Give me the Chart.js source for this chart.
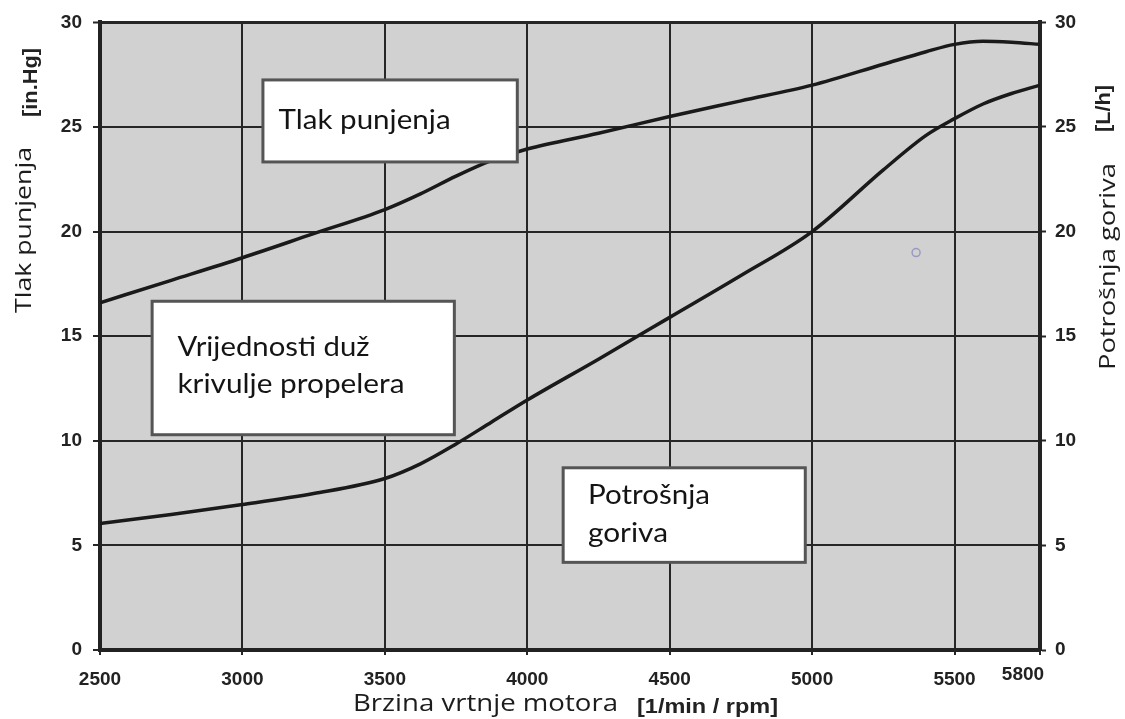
<!DOCTYPE html>
<html>
<head>
<meta charset="utf-8">
<script src="https://cdn.jsdelivr.net/npm/chart.js@4.4.1/dist/chart.umd.min.js"></script>
<style>
html,body{margin:0;padding:0;background:#fff;}
canvas{display:block;}
</style>
</head>
<body>
<canvas id="c" width="1125" height="719"></canvas>
<script>
// ---- data ----
const rpm = [2500, 2750, 3000, 3250, 3500, 3625, 3750, 3875, 4000, 4250, 4500, 4750, 5000, 5250, 5400, 5500, 5600, 5700, 5800];
const tlakPunjenja = [16.6, 17.67, 18.75, 19.9, 21.05, 21.8, 22.65, 23.4, 23.95, 24.7, 25.5, 26.25, 27.0, 28.0, 28.6, 28.95, 29.1, 29.05, 28.95];
const potrosnjaGoriva = [6.05, 6.48, 6.95, 7.48, 8.2, 8.9, 9.85, 10.9, 11.95, 13.9, 15.9, 17.9, 20.0, 22.95, 24.6, 25.4, 26.1, 26.6, 27.0];
const strayMarkRpm = [5365];
const strayMarkValue = [19.0];
const xTicks = [2500, 3000, 3500, 4000, 4500, 5000, 5500, 5800];
const yTicksLeft = [0, 5, 10, 15, 20, 25, 30];
const yTicksRight = [0, 5, 10, 15, 20, 25, 30];
const xTitle = 'Brzina vrtnje motora';
const xUnit = '[1/min / rpm]';
const yTitle = 'Tlak punjenja';
const yUnit = '[in.Hg]';
const y1Title = 'Potrošnja goriva';
const y1Unit = '[L/h]';
const noteTlak = ['Tlak punjenja'];
const notePropeler = ['Vrijednosti duž', 'krivulje propelera'];
const noteGorivo = ['Potrošnja', 'goriva'];

// ---- helpers ----
const GRID = '#262626';
const TICKFONT = {family: "'Liberation Sans', Arial, sans-serif", weight: 'bold', size: 19};

function fitText(ctx, text, font, x, y, width, rot, color) {
  ctx.save();
  ctx.font = font;
  ctx.fillStyle = color || '#1c1c1c';
  const w = ctx.measureText(text).width;
  ctx.translate(x, y);
  if (rot) ctx.rotate(rot);
  ctx.scale(width / w, 1);
  ctx.textAlign = 'left';
  ctx.textBaseline = 'alphabetic';
  ctx.fillText(text, 0, 0);
  ctx.restore();
}

const bgPlugin = {
  id: 'bg',
  beforeDraw(chart) {
    const {ctx, chartArea: a} = chart;
    ctx.save();
    ctx.fillStyle = '#fff';
    ctx.fillRect(0, 0, chart.width, chart.height);
    ctx.fillStyle = '#d1d1d1';
    ctx.fillRect(a.left, a.top, a.right - a.left, a.bottom - a.top);
    ctx.restore();
  }
};

// notes: boxes in data coordinates (x: rpm, y: left axis value)
const notes = [
  {lines: noteTlak, x0: 3072, x1: 3965, y0: 23.33, y1: 27.25, tx: 3127, base: [24.9], widths: [172]},
  {lines: notePropeler, x0: 2683, x1: 3744, y0: 10.29, y1: 16.67, tx: 2772, base: [14.05, 12.3], widths: [192, 227]},
  {lines: noteGorivo, x0: 4126, x1: 4976, y0: 4.19, y1: 8.71, tx: 4213, base: [7.0, 5.15], widths: [122, 80]}
];

const notesPlugin = {
  id: 'notes',
  afterDatasetsDraw(chart) {
    const {ctx} = chart;
    const xs = chart.scales.x, ys = chart.scales.y;
    notes.forEach(n => {
      const l = xs.getPixelForValue(n.x0), r = xs.getPixelForValue(n.x1);
      const t = ys.getPixelForValue(n.y1), b = ys.getPixelForValue(n.y0);
      ctx.save();
      ctx.fillStyle = '#fff';
      ctx.fillRect(l, t, r - l, b - t);
      ctx.strokeStyle = '#555';
      ctx.lineWidth = 3;
      ctx.strokeRect(l, t, r - l, b - t);
      ctx.restore();
      n.lines.forEach((s, i) => {
        fitText(ctx, s, "27px Lato, 'Open Sans', sans-serif", xs.getPixelForValue(n.tx), ys.getPixelForValue(n.base[i]), n.widths[i], 0, '#141414');
      });
    });
  },
  afterDraw(chart) {
    const {ctx} = chart;
    const xs = chart.scales.x;
    // axis titles
    fitText(ctx, yTitle, "22px 'Open Sans', sans-serif", 31, 313, 166, -Math.PI / 2);
    fitText(ctx, yUnit, "bold 20px 'Liberation Sans', Arial, sans-serif", 37, 117, 69, -Math.PI / 2, '#222');
    fitText(ctx, y1Title, "22px 'Open Sans', sans-serif", 1115, 370, 207, -Math.PI / 2);
    fitText(ctx, y1Unit, "bold 20px 'Liberation Sans', Arial, sans-serif", 1110, 132, 47, -Math.PI / 2, '#222');
    fitText(ctx, xTitle, "23px 'Open Sans', sans-serif", 353, 711, 265, 0);
    fitText(ctx, xUnit, "bold 20px 'Liberation Sans', Arial, sans-serif", 637, 713, 141, 0, '#222');
    // last x tick label (shifted in the original)
    const last = xTicks[xTicks.length - 1];
    ctx.save();
    ctx.font = "bold 19px 'Liberation Sans', Arial, sans-serif";
    ctx.fillStyle = '#222';
    ctx.textAlign = 'center';
    ctx.textBaseline = 'middle';
    ctx.fillText(String(last), xs.getPixelForValue(last) - 17, 675);
    ctx.restore();
  }
};

const toXY = (xa, ya) => xa.map((v, i) => ({x: v, y: ya[i]}));

new Chart(document.getElementById('c'), {
  type: 'line',
  data: {
    datasets: [
      {label: yTitle, data: toXY(rpm, tlakPunjenja), yAxisID: 'y', borderColor: '#1a1a1a', borderWidth: 3.5, pointRadius: 0, cubicInterpolationMode: 'monotone', fill: false},
      {label: y1Title, data: toXY(rpm, potrosnjaGoriva), yAxisID: 'y1', borderColor: '#1a1a1a', borderWidth: 3.5, pointRadius: 0, cubicInterpolationMode: 'monotone', fill: false},
      {label: 'marker', data: toXY(strayMarkRpm, strayMarkValue), yAxisID: 'y1', showLine: false, pointRadius: 4, pointBorderWidth: 1.5, pointBorderColor: '#9a9ac0', pointBackgroundColor: 'rgba(0,0,0,0)'}
    ]
  },
  options: {
    responsive: false,
    devicePixelRatio: 1,
    animation: false,
    events: [],
    layout: {padding: {top: 20, left: 0, right: 0, bottom: 0}},
    plugins: {legend: {display: false}, tooltip: {enabled: false}, title: {display: false}},
    scales: {
      x: {
        type: 'linear', position: 'bottom', min: xTicks[0], max: xTicks[xTicks.length - 1],
        afterBuildTicks(s) { s.ticks = xTicks.map(v => ({value: v})); },
        afterFit(s) { s.height = 69; },
        ticks: {autoSkip: false, maxRotation: 0, padding: 13, color: '#222', font: TICKFONT,
          callback: v => (v === xTicks[xTicks.length - 1] ? '' : String(v))},
        grid: {color: GRID, lineWidth: 2, tickLength: 5, tickColor: GRID, tickWidth: 2},
        border: {color: '#222', width: 4}
      },
      y: {
        type: 'linear', position: 'left', min: 0, max: 30,
        afterBuildTicks(s) { s.ticks = yTicksLeft.map(v => ({value: v})); },
        afterFit(s) { s.width = 100; },
        ticks: {padding: 11, color: '#222', font: TICKFONT},
        grid: {color: GRID, lineWidth: c => (c.tick && c.tick.value === 30 ? 3 : 2), tickLength: 7, tickColor: GRID, tickWidth: 2},
        border: {color: '#222', width: 4}
      },
      y1: {
        type: 'linear', position: 'right', min: 0, max: 30,
        afterBuildTicks(s) { s.ticks = yTicksRight.map(v => ({value: v})); },
        afterFit(s) { s.width = 85; },
        ticks: {padding: 9, color: '#222', font: TICKFONT},
        grid: {drawOnChartArea: false, color: GRID, tickLength: 6, tickColor: GRID, tickWidth: 2},
        border: {color: '#222', width: 4}
      }
    }
  },
  plugins: [bgPlugin, notesPlugin]
});
</script>
</body>
</html>
